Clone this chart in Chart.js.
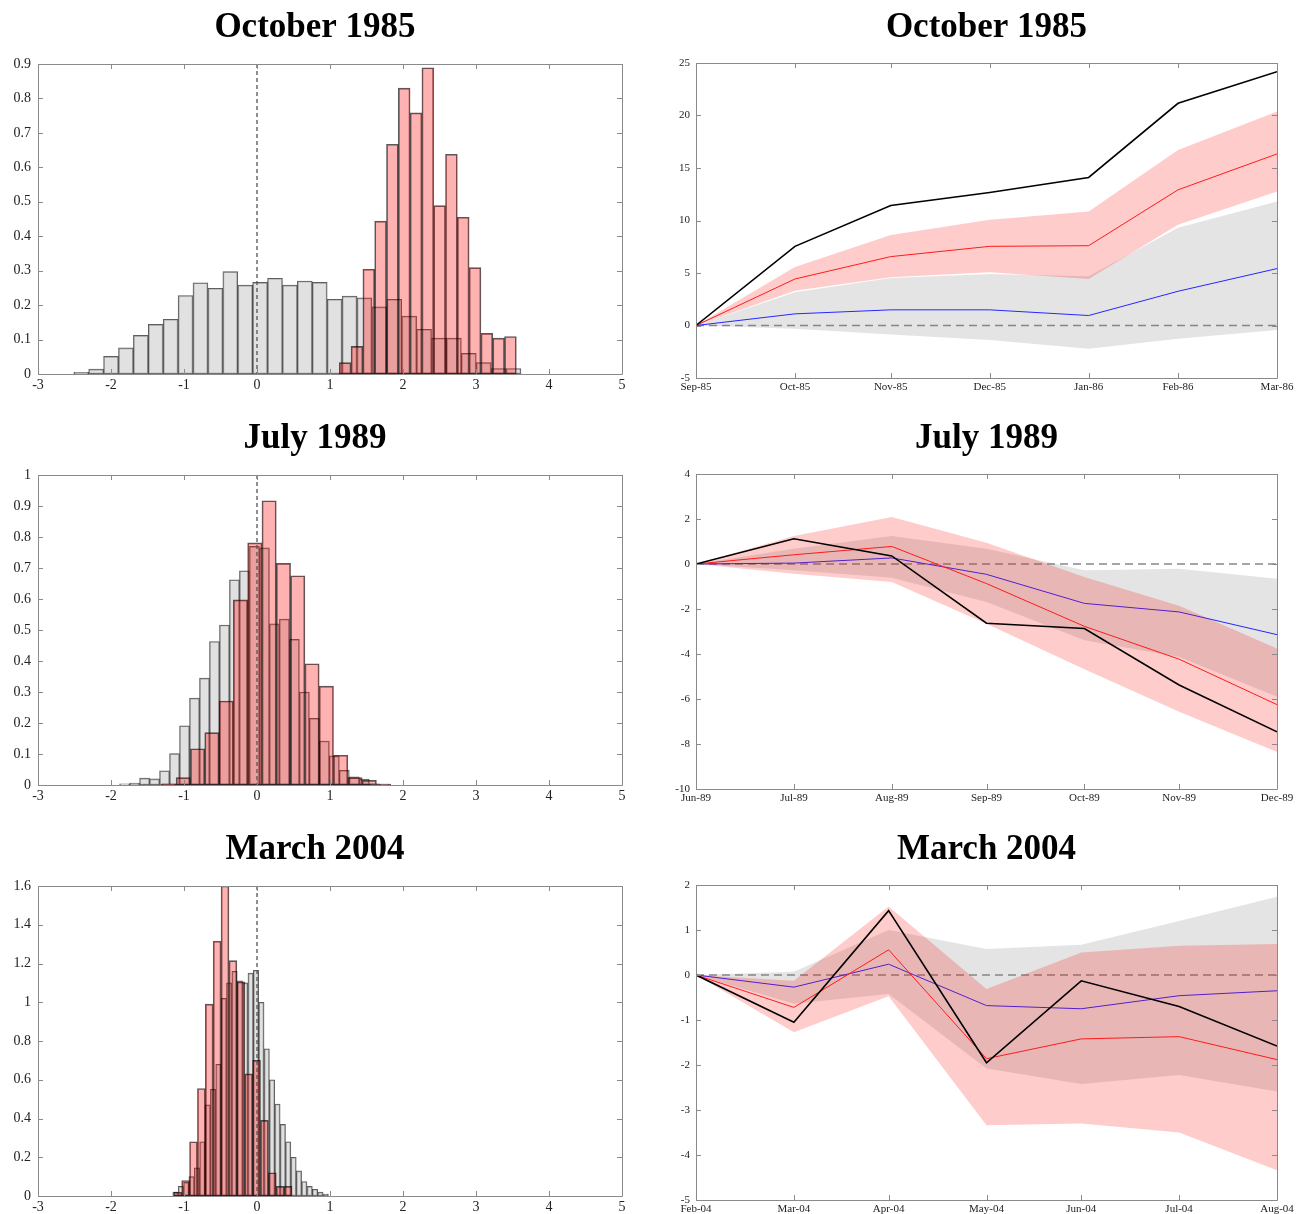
<!DOCTYPE html>
<html>
<head>
<meta charset="utf-8">
<script src="https://cdn.jsdelivr.net/npm/chart.js@4.4.1/dist/chart.umd.min.js"></script>
<style>
  html, body { margin: 0; padding: 0; background: #fff; overflow: hidden; }
  .panel { position: absolute; }
</style>
</head>
<body>
<div class="panel" style="left:8px;top:0px"><canvas id="hOct85" width="642" height="392"></canvas></div>
<div class="panel" style="left:650px;top:0px"><canvas id="lOct85" width="648" height="392"></canvas></div>
<div class="panel" style="left:8px;top:411px"><canvas id="hJul89" width="642" height="392"></canvas></div>
<div class="panel" style="left:650px;top:411px"><canvas id="lJul89" width="648" height="392"></canvas></div>
<div class="panel" style="left:8px;top:822px"><canvas id="hMar04" width="642" height="392"></canvas></div>
<div class="panel" style="left:650px;top:822px"><canvas id="lMar04" width="648" height="392"></canvas></div>
<script>
// ---- histogram data (bin start, bin width, bar heights) ----
const oct85HistGrayStart = -2.51, oct85HistGrayWidth = 0.2042;
const oct85HistGray = [0.005, 0.014, 0.051, 0.076, 0.112, 0.144, 0.159, 0.228, 0.265, 0.249,
                       0.297, 0.258, 0.266, 0.278, 0.258, 0.270, 0.266, 0.217, 0.226, 0.221,
                       0.195, 0.217, 0.168, 0.130, 0.104, 0.104, 0.060, 0.033, 0.016, 0.016];
const oct85HistRedStart = 1.127, oct85HistRedWidth = 0.1617;
const oct85HistRed = [0.033, 0.080, 0.304, 0.444, 0.667, 0.830, 0.758, 0.889, 0.489, 0.638,
                      0.455, 0.309, 0.118, 0.104, 0.109];

const jul89HistGrayStart = -1.882, jul89HistGrayWidth = 0.1368;
const jul89HistGray = [0.004, 0.006, 0.022, 0.020, 0.046, 0.101, 0.191, 0.280, 0.345, 0.463,
                       0.516, 0.662, 0.691, 0.770, 0.765, 0.520, 0.535, 0.470, 0.300, 0.215,
                       0.142, 0.094, 0.047, 0.026, 0.019, 0.004, 0.003];
const jul89HistRedStart = -1.304, jul89HistRedWidth = 0.196;
const jul89HistRed = [0.004, 0.024, 0.117, 0.169, 0.271, 0.597, 0.781, 0.917, 0.715, 0.675,
                      0.391, 0.319, 0.096, 0.024, 0.015, 0.003];

const mar04HistGrayStart = -1.153, mar04HistGrayWidth = 0.0735;
const mar04HistGray = [0.02, 0.05, 0.07, 0.10, 0.145, 0.28, 0.47, 0.55, 0.68, 1.02,
                       1.10, 1.16, 1.11, 1.10, 1.15, 1.165, 1.00, 0.76, 0.60, 0.475,
                       0.37, 0.28, 0.20, 0.13, 0.075, 0.05, 0.035, 0.02, 0.01];
const mar04HistRedStart = -1.14, mar04HistRedWidth = 0.108;
const mar04HistRed = [0.02, 0.08, 0.28, 0.555, 0.99, 1.315, 1.60, 1.215, 1.105, 0.63,
                      0.70, 0.39, 0.12, 0.05, 0.05];

// ---- path data (end-of-month dates) ----
const oct85Dates = ['1985-09-30', '1985-10-31', '1985-11-30', '1985-12-31', '1986-01-31', '1986-02-28', '1986-03-31'];
const oct85Labels = ['Sep-85', 'Oct-85', 'Nov-85', 'Dec-85', 'Jan-86', 'Feb-86', 'Mar-86'];
const oct85Actual = [0, 7.54, 11.43, 12.67, 14.1, 21.16, 24.17];
const oct85RedLine = [0, 4.43, 6.56, 7.54, 7.6, 12.92, 16.34];
const oct85RedHi = [0, 5.57, 8.62, 10.07, 10.86, 16.72, 20.37];
const oct85RedLo = [0, 3.3, 4.59, 5.07, 4.43, 9.6, 12.77];
const oct85Blue = [0, 1.11, 1.49, 1.49, 0.95, 3.26, 5.42];
const oct85GrayHi = [0, 3.17, 4.53, 4.91, 4.69, 9.3, 11.8];
const oct85GrayLo = [0, -0.32, -0.86, -1.39, -2.22, -1.27, -0.44];

const jul89Dates = ['1989-06-30', '1989-07-31', '1989-08-31', '1989-09-30', '1989-10-31', '1989-11-30', '1989-12-31'];
const jul89Labels = ['Jun-89', 'Jul-89', 'Aug-89', 'Sep-89', 'Oct-89', 'Nov-89', 'Dec-89'];
const jul89Actual = [0, 1.12, 0.36, -2.63, -2.87, -5.38, -7.46];
const jul89RedLine = [0, 0.41, 0.78, -0.87, -2.77, -4.23, -6.25];
const jul89RedHi = [0, 1.24, 2.09, 0.95, -0.58, -1.86, -3.76];
const jul89RedLo = [0, -0.43, -0.8, -2.65, -4.68, -6.57, -8.35];
const jul89Blue = [0, 0.04, 0.27, -0.46, -1.75, -2.13, -3.14];
const jul89GrayHi = [0, 0.68, 1.24, 0.68, -0.28, -0.21, -0.65];
const jul89GrayLo = [0, -0.28, -0.61, -1.69, -3.39, -4.13, -5.9];

const mar04Dates = ['2004-02-29', '2004-03-31', '2004-04-30', '2004-05-31', '2004-06-30', '2004-07-31', '2004-08-31'];
const mar04Labels = ['Feb-04', 'Mar-04', 'Apr-04', 'May-04', 'Jun-04', 'Jul-04', 'Aug-04'];
const mar04Actual = [0, -1.05, 1.43, -1.95, -0.13, -0.70, -1.58];
const mar04RedLine = [0, -0.72, 0.56, -1.86, -1.42, -1.37, -1.88];
const mar04RedHi = [0, -0.13, 1.52, -0.31, 0.5, 0.65, 0.69];
const mar04RedLo = [0, -1.27, -0.47, -3.34, -3.30, -3.5, -4.34];
const mar04Blue = [0, -0.27, 0.24, -0.68, -0.75, -0.46, -0.35];
const mar04GrayHi = [0, 0.07, 1.0, 0.58, 0.67, 1.2, 1.74];
const mar04GrayLo = [0, -0.64, -0.42, -2.08, -2.42, -2.22, -2.59];

const serif = "'Liberation Serif', 'Times New Roman', serif";
Chart.defaults.font.family = serif;

// box round the plot with inward ticks on all four sides
const axesBox = {
  id: 'axesBox',
  afterDraw(chart, args, o) {
    const { ctx, chartArea: a } = chart;
    const xs = chart.scales[o.x], ys = chart.scales.y;
    const L = o.tick;
    ctx.save();
    ctx.strokeStyle = '#8a8a8a';
    ctx.lineWidth = 1;
    ctx.beginPath();
    ctx.rect(Math.round(a.left) + 0.5, Math.round(a.top) + 0.5, Math.round(a.width), Math.round(a.height));
    xs.ticks.forEach(t => {
      const p = Math.round(xs.getPixelForValue(t.value)) + 0.5;
      ctx.moveTo(p, a.bottom); ctx.lineTo(p, a.bottom - L);
      ctx.moveTo(p, a.top); ctx.lineTo(p, a.top + L);
    });
    ys.ticks.forEach(t => {
      const p = Math.round(ys.getPixelForValue(t.value)) + 0.5;
      ctx.moveTo(a.left, p); ctx.lineTo(a.left + L, p);
      ctx.moveTo(a.right, p); ctx.lineTo(a.right - L, p);
    });
    ctx.stroke();
    ctx.restore();
  }
};

function drawZero(chart, o) {
  const { ctx, chartArea: a } = chart;
  const s = chart.scales[o.scale];
  const p = s.getPixelForValue(0);
  ctx.save();
  ctx.strokeStyle = o.color;
  ctx.lineWidth = o.width;
  ctx.setLineDash([o.on, o.off]);
  ctx.beginPath();
  if (s.isHorizontal()) { ctx.moveTo(p, a.top); ctx.lineTo(p, a.bottom); }
  else { ctx.moveTo(a.left, p); ctx.lineTo(a.right, p); }
  ctx.stroke();
  ctx.restore();
}

const zeroLine = {
  id: 'zeroLine',
  beforeDatasetsDraw(chart, args, o) { if (!o.front) drawZero(chart, o); },
  afterDatasetsDraw(chart, args, o) { if (o.front) drawZero(chart, o); }
};

function bins(start, width, heights) {
  return heights.map((h, i) => ({ x: start + (i + 0.5) * width, y: h }));
}

const plainNum = v => String(Number(v.toFixed(3)));

function histogram(id, title, gray, red, yMax, yStep) {
  const xAxis = (show) => ({
    type: 'linear', min: -3, max: 5, offset: false, display: show,
    grid: { display: false, drawTicks: false, offset: false },
    border: { display: false },
    ticks: { stepSize: 1, color: '#222', font: { size: 14 }, padding: 3, maxRotation: 0 },
    afterFit: s => { s.height = show ? 18 : 0; }
  });
  new Chart(document.getElementById(id), {
    type: 'bar',
    data: {
      datasets: [
        { data: red, xAxisID: 'xr', backgroundColor: 'rgba(255,0,0,0.3)',
          borderColor: 'rgba(0,0,0,0.65)', borderWidth: 1, borderSkipped: false },
        { data: gray, xAxisID: 'xg', backgroundColor: 'rgba(205,205,205,0.6)',
          borderColor: 'rgba(40,40,40,0.75)', borderWidth: 1, borderSkipped: false }
      ]
    },
    options: {
      responsive: false,
      animation: false,
      barPercentage: 1,
      categoryPercentage: 1,
      grouped: false,
      layout: { padding: { left: 0, right: 28, top: 0, bottom: 0 } },
      plugins: {
        legend: { display: false },
        tooltip: { enabled: false },
        title: { display: true, text: title, color: '#000', fullSize: true,
                 font: { size: 35, weight: 'bold', family: serif }, padding: { top: 7, bottom: 15 } },
        axesBox: { x: 'xg', tick: 5 },
        zeroLine: { scale: 'xg', color: '#555', width: 1.3, on: 4, off: 3, front: true }
      },
      scales: {
        xg: xAxis(true),
        xr: xAxis(false),
        y: {
          min: 0, max: yMax,
          grid: { display: false, drawTicks: false },
          border: { display: false },
          ticks: { stepSize: yStep, color: '#222', font: { size: 14 }, padding: 7, callback: plainNum },
          afterFit: s => { s.width = 30; }
        }
      }
    },
    plugins: [axesBox, zeroLine]
  });
}

function dayOffsets(dates) {
  const t0 = Date.parse(dates[0]);
  return dates.map(d => (Date.parse(d) - t0) / 86400000);
}

function pts(xs, ys) { return ys.map((y, i) => ({ x: xs[i], y })); }

function paths(id, title, dates, labels, s, yMin, yMax, yStep) {
  const x = dayOffsets(dates);
  const band = (data, color) => ({ data: pts(x, data), borderWidth: 0, borderColor: 'transparent',
                                   fill: color ? '+1' : false, backgroundColor: color || 'transparent' });
  new Chart(document.getElementById(id), {
    type: 'line',
    data: {
      datasets: [
        { data: pts(x, s.actual), borderColor: '#000', borderWidth: 1.6, fill: false },
        { data: pts(x, s.red), borderColor: '#ff1a1a', borderWidth: 1, fill: false },
        band(s.redHi, 'rgba(255,0,0,0.2)'),
        band(s.redLo, null),
        { data: pts(x, s.blue), borderColor: '#2626ff', borderWidth: 1, fill: false },
        band(s.grayHi, 'rgba(128,128,128,0.21)'),
        band(s.grayLo, null)
      ]
    },
    options: {
      responsive: false,
      animation: false,
      elements: { point: { radius: 0 }, line: { tension: 0 } },
      layout: { padding: { left: 20, right: 21, top: 0, bottom: 0 } },
      plugins: {
        legend: { display: false },
        tooltip: { enabled: false },
        title: { display: true, text: title, color: '#000', fullSize: false,
                 font: { size: 35, weight: 'bold', family: serif }, padding: { top: 7, bottom: 14 } },
        axesBox: { x: 'x', tick: 5 },
        zeroLine: { scale: 'y', color: '#888', width: 1.5, on: 8, off: 5, front: false }
      },
      scales: {
        x: {
          type: 'linear', min: x[0], max: x[x.length - 1],
          grid: { display: false, drawTicks: false },
          border: { display: false },
          afterBuildTicks: sc => { sc.ticks = x.map(v => ({ value: v })); },
          ticks: { autoSkip: false, maxRotation: 0, color: '#222', font: { size: 11 }, padding: 3,
                   callback: (v, i) => labels[i] },
          afterFit: sc => { sc.height = 14; }
        },
        y: {
          min: yMin, max: yMax,
          grid: { display: false, drawTicks: false },
          border: { display: false },
          ticks: { stepSize: yStep, color: '#222', font: { size: 11 }, padding: 6 },
          afterFit: sc => { sc.width = 26; }
        }
      }
    },
    plugins: [axesBox, zeroLine]
  });
}

histogram('hOct85', 'October 1985',
  bins(oct85HistGrayStart, oct85HistGrayWidth, oct85HistGray),
  bins(oct85HistRedStart, oct85HistRedWidth, oct85HistRed), 0.9, 0.1);
histogram('hJul89', 'July 1989',
  bins(jul89HistGrayStart, jul89HistGrayWidth, jul89HistGray),
  bins(jul89HistRedStart, jul89HistRedWidth, jul89HistRed), 1, 0.1);
histogram('hMar04', 'March 2004',
  bins(mar04HistGrayStart, mar04HistGrayWidth, mar04HistGray),
  bins(mar04HistRedStart, mar04HistRedWidth, mar04HistRed), 1.6, 0.2);

paths('lOct85', 'October 1985', oct85Dates, oct85Labels,
  { actual: oct85Actual, red: oct85RedLine, redHi: oct85RedHi, redLo: oct85RedLo,
    blue: oct85Blue, grayHi: oct85GrayHi, grayLo: oct85GrayLo }, -5, 25, 5);
paths('lJul89', 'July 1989', jul89Dates, jul89Labels,
  { actual: jul89Actual, red: jul89RedLine, redHi: jul89RedHi, redLo: jul89RedLo,
    blue: jul89Blue, grayHi: jul89GrayHi, grayLo: jul89GrayLo }, -10, 4, 2);
paths('lMar04', 'March 2004', mar04Dates, mar04Labels,
  { actual: mar04Actual, red: mar04RedLine, redHi: mar04RedHi, redLo: mar04RedLo,
    blue: mar04Blue, grayHi: mar04GrayHi, grayLo: mar04GrayLo }, -5, 2, 1);
</script>
</body>
</html>
